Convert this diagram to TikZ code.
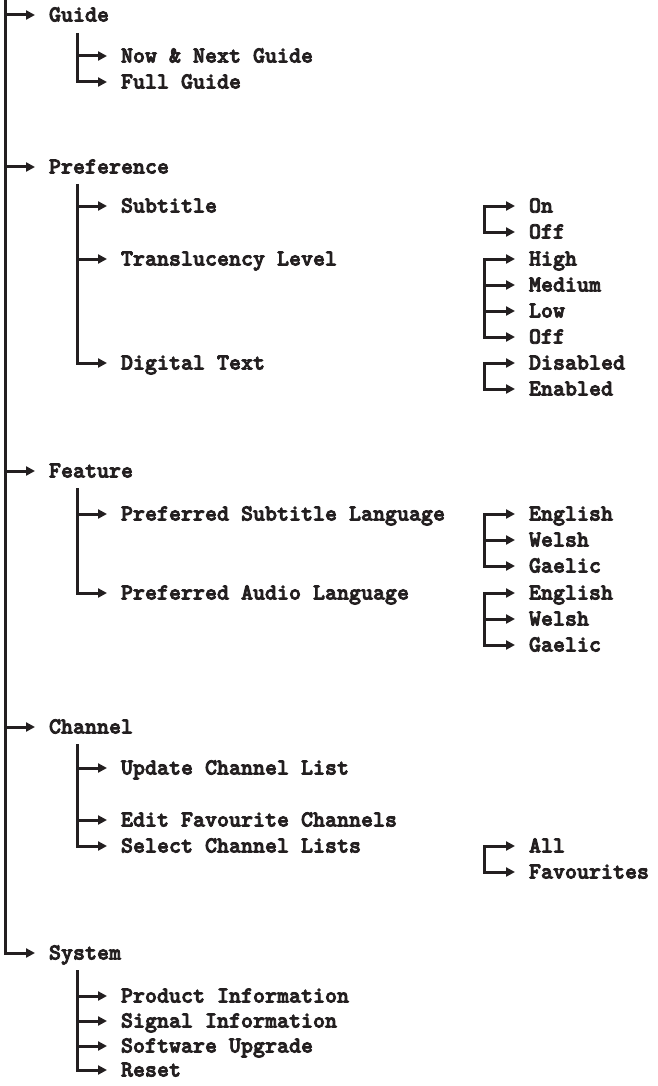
\documentclass[tikz,border=0pt]{standalone}
\usepackage{fontspec}
\newfontfamily\itemfont{lmmonolt10-bold.otf}[FakeBold=3.5]
\usetikzlibrary{arrows.meta}
\definecolor{ink}{HTML}{231F20}
\begin{document}
\begin{tikzpicture}[x=1pt,y=-1pt,
  item/.style={font=\fontsize{22.86}{26}\selectfont\itemfont, text=ink, anchor=west,
    inner sep=0pt, text height=13pt, text depth=0pt, outer xsep=14pt, outer ysep=0pt},
  link/.style={draw=ink, line width=3pt, -{Triangle[length=9pt,width=9pt]}},
  bracket/.style={draw=ink, line width=3pt, {Triangle[length=9pt,width=9pt]}-{Triangle[length=9pt,width=9pt]}}]
\useasboundingbox (0,0) rectangle (657,1086);

% level 1
\node[item] (guide)   at (35,15)  {Guide};
\node[item] (pref)    at (35,167) {Preference};
\node[item] (feat)    at (35,471) {Feature};
\node[item] (chan)    at (35,727) {Channel};
\node[item] (sys)     at (35,953) {System};

% level 2
\node[item] (nng)     at (107,56)  {Now \& Next Guide};
\node[item] (fullg)   at (107,82)  {Full Guide};
\node[item] (subt)    at (107,206) {Subtitle};
\node[item] (transl)  at (107,259) {Translucency Level};
\node[item] (digit)   at (107,363) {Digital Text};
\node[item] (psub)    at (107,514) {Preferred Subtitle Language};
\node[item] (paud)    at (107,593) {Preferred Audio Language};
\node[item] (upd)     at (107,768) {Update Channel List};
\node[item] (edit)    at (107,820) {Edit Favourite Channels};
\node[item] (sel)     at (107,846) {Select Channel Lists};
\node[item] (prod)    at (107,996) {Product Information};
\node[item] (sig)     at (107,1021) {Signal Information};
\node[item] (soft)    at (107,1046) {Software Upgrade};
\node[item] (reset)   at (107,1070) {Reset};

% level 3
\node[item] (on)      at (515,206) {On};
\node[item] (off)     at (515,232) {Off};
\node[item] (high)    at (515,259) {High};
\node[item] (med)     at (515,285) {Medium};
\node[item] (low)     at (515,311) {Low};
\node[item] (toff)    at (515,337) {Off};
\node[item] (dis)     at (515,363) {Disabled};
\node[item] (ena)     at (515,389) {Enabled};
\node[item] (sen)     at (515,514) {English};
\node[item] (swe)     at (515,540) {Welsh};
\node[item] (sga)     at (515,566) {Gaelic};
\node[item] (aen)     at (515,593) {English};
\node[item] (awe)     at (515,619) {Welsh};
\node[item] (aga)     at (515,645) {Gaelic};
\node[item] (all)     at (515,846) {All};
\node[item] (fav)     at (515,872) {Favourites};

% trunk coordinates
\coordinate (t0) at (5,0);
\coordinate (gs) at (77,33);
\coordinate (ps) at (77,184);
\coordinate (fs) at (77,488);
\coordinate (cs) at (77,744);
\coordinate (ss) at (77,970);
\coordinate (rx) at (484,0);

% main trunk
\draw[link] (t0) -- (t0 |- sys.west) -- (sys.west);
\draw[link] (t0 |- guide.west) -- (guide.west);
\draw[link] (t0 |- pref.west) -- (pref.west);
\draw[link] (t0 |- feat.west) -- (feat.west);
\draw[link] (t0 |- chan.west) -- (chan.west);

% guide
\draw[link] (gs) -- (gs |- fullg.west) -- (fullg.west);
\draw[link] (gs |- nng.west) -- (nng.west);

% preference
\draw[link] (ps) -- (ps |- digit.west) -- (digit.west);
\draw[link] (ps |- subt.west) -- (subt.west);
\draw[link] (ps |- transl.west) -- (transl.west);

% feature
\draw[link] (fs) -- (fs |- paud.west) -- (paud.west);
\draw[link] (fs |- psub.west) -- (psub.west);

% channel
\draw[link] (cs) -- (cs |- sel.west) -- (sel.west);
\draw[link] (cs |- upd.west) -- (upd.west);
\draw[link] (cs |- edit.west) -- (edit.west);

% system
\draw[link] (ss) -- (ss |- reset.west) -- (reset.west);
\draw[link] (ss |- prod.west) -- (prod.west);
\draw[link] (ss |- sig.west) -- (sig.west);
\draw[link] (ss |- soft.west) -- (soft.west);

% right brackets
\draw[bracket] (on.west) -- (rx |- on.west) -- (rx |- off.west) -- (off.west);
\draw[bracket] (high.west) -- (rx |- high.west) -- (rx |- toff.west) -- (toff.west);
\draw[link] (rx |- med.west) -- (med.west);
\draw[link] (rx |- low.west) -- (low.west);
\draw[bracket] (dis.west) -- (rx |- dis.west) -- (rx |- ena.west) -- (ena.west);
\draw[bracket] (sen.west) -- (rx |- sen.west) -- (rx |- sga.west) -- (sga.west);
\draw[link] (rx |- swe.west) -- (swe.west);
\draw[bracket] (aen.west) -- (rx |- aen.west) -- (rx |- aga.west) -- (aga.west);
\draw[link] (rx |- awe.west) -- (awe.west);
\draw[bracket] (all.west) -- (rx |- all.west) -- (rx |- fav.west) -- (fav.west);
\end{tikzpicture}
\end{document}
